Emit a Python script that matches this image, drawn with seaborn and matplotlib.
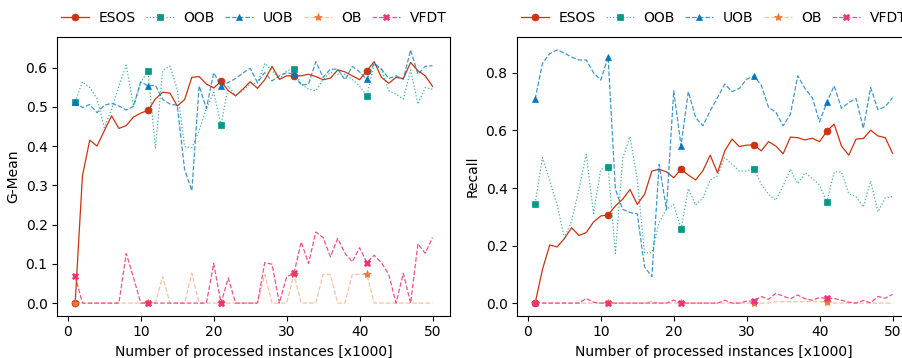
import numpy as np
import pandas as pd
import matplotlib
matplotlib.use("Agg")
import matplotlib.pyplot as plt
from matplotlib.colors import to_rgba
import seaborn as sns

x = list(range(1, 51))

gmean_esos = [0.0, 0.324, 0.415, 0.40, 0.439, 0.477, 0.445, 0.452, 0.474, 0.484,
              0.491, 0.52, 0.537, 0.535, 0.502, 0.518, 0.575, 0.577, 0.558, 0.548,
              0.565, 0.541, 0.528, 0.545, 0.564, 0.547, 0.569, 0.603, 0.57, 0.579,
              0.579, 0.579, 0.583, 0.577, 0.569, 0.573, 0.594, 0.589, 0.579, 0.569,
              0.592, 0.615, 0.575, 0.56, 0.575, 0.572, 0.613, 0.592, 0.579, 0.552]
gmean_oob = [0.513, 0.564, 0.549, 0.521, 0.447, 0.494, 0.553, 0.606, 0.502, 0.562,
             0.592, 0.394, 0.592, 0.604, 0.545, 0.399, 0.396, 0.439, 0.496, 0.537,
             0.453, 0.553, 0.528, 0.541, 0.559, 0.56, 0.611, 0.592, 0.57, 0.592,
             0.596, 0.558, 0.545, 0.541, 0.57, 0.588, 0.583, 0.583, 0.57, 0.553,
             0.528, 0.609, 0.596, 0.541, 0.532, 0.52, 0.594, 0.507, 0.549, 0.545]
gmean_uob = [0.513, 0.498, 0.506, 0.485, 0.504, 0.509, 0.502, 0.492, 0.501, 0.564,
             0.553, 0.555, 0.519, 0.507, 0.504, 0.341, 0.286, 0.553, 0.496, 0.587,
             0.553, 0.562, 0.572, 0.586, 0.598, 0.562, 0.587, 0.566, 0.579, 0.587,
             0.583, 0.555, 0.558, 0.615, 0.575, 0.596, 0.596, 0.569, 0.603, 0.589,
             0.57, 0.611, 0.596, 0.572, 0.579, 0.57, 0.645, 0.583, 0.603, 0.605]
gmean_ob = [0.0, 0.0, 0.0, 0.0, 0.0, 0.0, 0.0, 0.0, 0.0, 0.0,
            0.0, 0.0, 0.068, 0.0, 0.0, 0.0, 0.076, 0.0, 0.0, 0.0,
            0.0, 0.0, 0.0, 0.0, 0.0, 0.0, 0.073, 0.0, 0.0, 0.0,
            0.073, 0.0, 0.0, 0.0, 0.073, 0.073, 0.0, 0.0, 0.073, 0.073,
            0.073, 0.0, 0.0, 0.0, 0.0, 0.0, 0.0, 0.0, 0.0, 0.0]
gmean_vfdt = [0.069, 0.0, 0.0, 0.0, 0.0, 0.0, 0.0, 0.126, 0.065, 0.0,
              0.0, 0.0, 0.0, 0.0, 0.0, 0.0, 0.0, 0.0, 0.0, 0.101,
              0.0, 0.064, 0.0, 0.0, 0.0, 0.0, 0.103, 0.099, 0.0, 0.067,
              0.076, 0.156, 0.101, 0.181, 0.167, 0.118, 0.165, 0.127, 0.105, 0.141,
              0.103, 0.122, 0.103, 0.073, 0.0, 0.076, 0.0, 0.151, 0.127, 0.167]

recall_esos = [0.0, 0.117, 0.202, 0.195, 0.224, 0.262, 0.235, 0.245, 0.282, 0.303,
               0.306, 0.338, 0.361, 0.395, 0.343, 0.378, 0.459, 0.465, 0.456, 0.436,
               0.465, 0.445, 0.428, 0.46, 0.514, 0.453, 0.529, 0.57, 0.544, 0.549,
               0.55, 0.529, 0.561, 0.546, 0.519, 0.577, 0.575, 0.567, 0.573, 0.561,
               0.598, 0.622, 0.546, 0.514, 0.57, 0.572, 0.601, 0.581, 0.575, 0.521]
recall_oob = [0.346, 0.506, 0.425, 0.343, 0.227, 0.285, 0.396, 0.517, 0.312, 0.465,
              0.473, 0.173, 0.502, 0.579, 0.43, 0.175, 0.175, 0.28, 0.326, 0.343,
              0.256, 0.398, 0.341, 0.365, 0.428, 0.442, 0.506, 0.482, 0.459, 0.459,
              0.467, 0.413, 0.378, 0.358, 0.407, 0.465, 0.415, 0.453, 0.433, 0.41,
              0.351, 0.456, 0.456, 0.38, 0.37, 0.334, 0.424, 0.317, 0.366, 0.37]
recall_uob = [0.709, 0.833, 0.867, 0.88, 0.869, 0.855, 0.845, 0.845, 0.801, 0.775,
              0.856, 0.396, 0.326, 0.315, 0.31, 0.126, 0.092, 0.482, 0.326, 0.738,
              0.546, 0.735, 0.645, 0.616, 0.668, 0.714, 0.761, 0.735, 0.746, 0.778,
              0.79, 0.757, 0.68, 0.664, 0.616, 0.656, 0.79, 0.746, 0.714, 0.63,
              0.699, 0.755, 0.677, 0.697, 0.711, 0.607, 0.749, 0.672, 0.683, 0.714]
recall_ob = [0.0, 0.0, 0.0, 0.0, 0.0, 0.0, 0.0, 0.0, 0.0, 0.0,
             0.0, 0.0, 0.0, 0.0, 0.0, 0.0, 0.006, 0.0, 0.0, 0.0,
             0.0, 0.0, 0.0, 0.0, 0.0, 0.0, 0.0, 0.0, 0.0, 0.0,
             0.0, 0.0, 0.0, 0.005, 0.005, 0.005, 0.005, 0.005, 0.005, 0.005,
             0.005, 0.0, 0.0, 0.0, 0.0, 0.0, 0.0, 0.0, 0.0, 0.0]
recall_vfdt = [0.0, 0.0, 0.0, 0.0, 0.0, 0.0, 0.0, 0.016, 0.003, 0.0,
               0.0, 0.0, 0.0, 0.0, 0.0, 0.0, 0.0, 0.0, 0.0, 0.01,
               0.0, 0.0, 0.0, 0.0, 0.0, 0.0, 0.01, 0.0, 0.0, 0.007,
               0.007, 0.023, 0.013, 0.034, 0.024, 0.015, 0.028, 0.015, 0.01, 0.019,
               0.016, 0.016, 0.01, 0.003, 0.0, 0.009, 0.001, 0.023, 0.017, 0.03]

methods = ["ESOS", "OOB", "UOB", "OB", "VFDT"]
colors = {"ESOS": "#CC3311", "OOB": "#009988", "UOB": "#0077BB", "OB": "#EE7733", "VFDT": "#EE3377"}
styles = {"ESOS": "-", "OOB": ":", "UOB": "--", "OB": "--", "VFDT": "--"}
markers = {"ESOS": "o", "OOB": "s", "UOB": "^", "OB": "*", "VFDT": "X"}
line_alpha = {"ESOS": 1.0, "OOB": 0.75, "UOB": 0.75, "OB": 0.45, "VFDT": 0.85}

gmean = {"ESOS": gmean_esos, "OOB": gmean_oob, "UOB": gmean_uob, "OB": gmean_ob, "VFDT": gmean_vfdt}
recall = {"ESOS": recall_esos, "OOB": recall_oob, "UOB": recall_uob, "OB": recall_ob, "VFDT": recall_vfdt}

fig = plt.figure(figsize=(9.02, 3.58), dpi=100)
ax1 = fig.add_axes([0.0635, 0.118, 0.4358, 0.778])
ax2 = fig.add_axes([0.5735, 0.118, 0.4358, 0.778])

for ax, data, ylabel in [(ax1, gmean, "G-Mean"), (ax2, recall, "Recall")]:
    for m in methods:
        df = pd.DataFrame({"x": x, "y": data[m]})
        sns.lineplot(data=df, x="x", y="y", ax=ax, label=m,
                     color=to_rgba(colors[m], line_alpha[m]),
                     linestyle=styles[m], linewidth=0.9,
                     marker=markers[m], markevery=10,
                     markersize=6 if m in ("OB",) else 5,
                     markerfacecolor=colors[m], markeredgecolor=colors[m],
                     markeredgewidth=0.5)
    ax.set_xlabel("Number of processed instances [x1000]")
    ax.set_ylabel(ylabel)
    ax.set_xticks([0, 10, 20, 30, 40, 50])
    ax.legend(loc="lower center", bbox_to_anchor=(0.5, 1.0), ncol=5, frameon=False,
              fontsize=10, handlelength=2.0, handletextpad=0.7, columnspacing=0.75)

fig.savefig("out.png", dpi=100)
